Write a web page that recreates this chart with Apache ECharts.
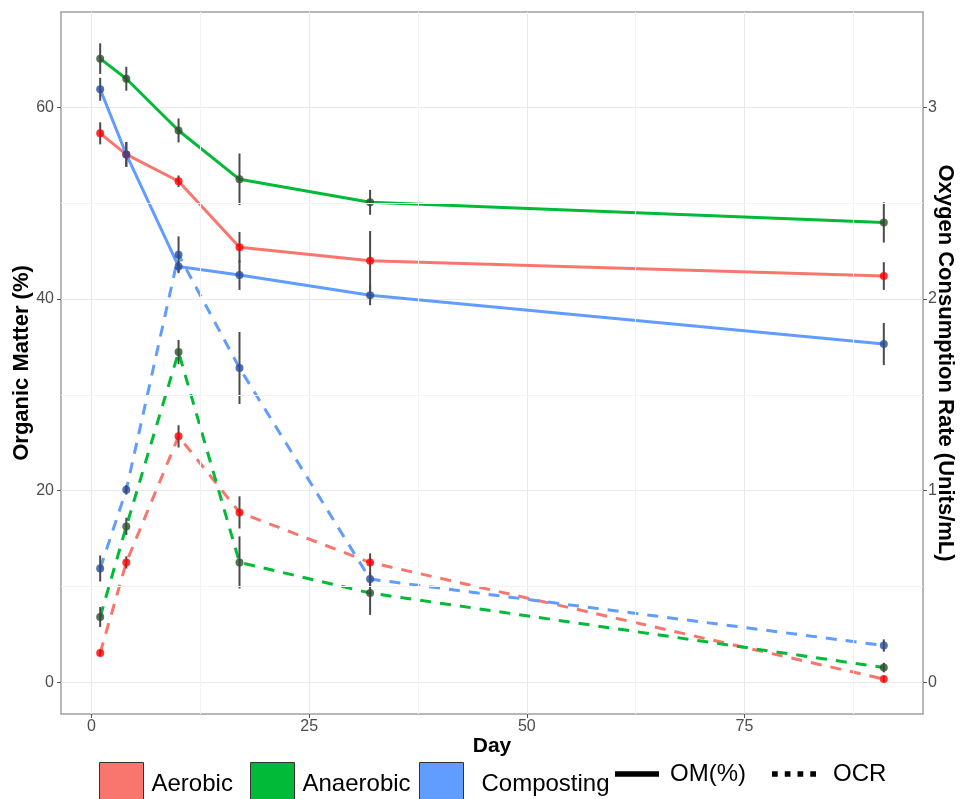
<!DOCTYPE html>
<html>
<head>
<meta charset="utf-8">
<script src="https://cdn.jsdelivr.net/npm/echarts@6/dist/echarts.min.js"></script>
<style>
html, body { margin: 0; padding: 0; background: #fff; }
#chart { width: 961px; height: 799px; }
</style>
</head>
<body>
<div id="chart"></div>
<script>
// sampling days
const days = [1, 4, 10, 17, 32, 91];
const treatments = ['Aerobic', 'Anaerobic', 'Composting'];

// organic matter (%), mean and error
const omAerobic = [57.3, 55.1, 52.3, 45.4, 44.0, 42.4];
const omAerobicErr = [1.15, 1.3, 0.6, 1.6, 3.1, 1.45];
const omAnaerobic = [65.1, 63.0, 57.6, 52.5, 50.1, 48.0];
const omAnaerobicErr = [1.6, 1.25, 1.25, 2.7, 1.3, 2.1];
const omComposting = [61.9, 55.1, 43.4, 42.5, 40.4, 35.3];
const omCompostingErr = [1.2, 1.3, 0.6, 1.55, 1.05, 2.2];

// oxygen consumption rate (Units/mL), mean and error
const ocrAerobic = [0.152, 0.625, 1.283, 0.886, 0.625, 0.016];
const ocrAerobicErr = [0.015, 0.032, 0.058, 0.084, 0.047, 0.015];
const ocrAnaerobic = [0.34, 0.813, 1.723, 0.625, 0.465, 0.076];
const ocrAnaerobicErr = [0.052, 0.045, 0.063, 0.136, 0.114, 0.025];
const ocrComposting = [0.593, 1.004, 2.231, 1.64, 0.538, 0.191];
const ocrCompostingErr = [0.068, 0.025, 0.096, 0.188, 0.04, 0.032];

// ticks
const dayTicks = [0, 25, 50, 75];
const dayMinor = [12.5, 37.5, 62.5, 87.5];
const omTicks = [0, 20, 40, 60];
const omMinor = [10, 30, 50];
const ocrTicks = [0, 1, 2, 3];

const legendNames = ['Aerobic', 'Anaerobic', 'Composting', 'OM(%)', 'OCR'];

const om = { Aerobic: omAerobic, Anaerobic: omAnaerobic, Composting: omComposting };
const omErr = { Aerobic: omAerobicErr, Anaerobic: omAnaerobicErr, Composting: omCompostingErr };
const ocr = { Aerobic: ocrAerobic, Anaerobic: ocrAnaerobic, Composting: ocrComposting };
const ocrErr = { Aerobic: ocrAerobicErr, Anaerobic: ocrAnaerobicErr, Composting: ocrCompostingErr };

const lineColors = { Aerobic: '#F8766D', Anaerobic: '#00BA38', Composting: '#619CFF' };
const pointColors = { Aerobic: '#FF0000', Anaerobic: '#2F4F2F', Composting: '#2B4C9B' };
const font = "'Liberation Sans', Arial, sans-serif";

let myChart = echarts.init(document.getElementById('chart'));

function renderBar(params, api) {
    let x = api.value(0);
    let lo = api.coord([x, api.value(1)]);
    let hi = api.coord([x, api.value(2)]);
    return {
        type: 'line',
        shape: { x1: lo[0], y1: lo[1], x2: hi[0], y2: hi[1] },
        style: { stroke: '#4a4a4a', lineWidth: 2 }
    };
}

let series = [];
// minor grid lines
series.push({
    type: 'line',
    data: [],
    silent: true,
    z: 1,
    markLine: {
        silent: true,
        symbol: 'none',
        animation: false,
        label: { show: false },
        lineStyle: { color: '#f3f3f3', type: 'solid', width: 1 },
        data: dayMinor.map(v => ({ xAxis: v })).concat(omMinor.map(v => ({ yAxis: v })))
    }
});

treatments.forEach(t => {
    // OM solid line
    series.push({
        name: t, type: 'line', symbol: 'none', z: 2, silent: true,
        lineStyle: { color: lineColors[t], width: 3 },
        data: days.map((d, i) => [d, om[t][i]])
    });
    // OCR dashed line
    series.push({
        name: t, type: 'line', symbol: 'none', z: 2, silent: true, yAxisIndex: 1,
        lineStyle: { color: lineColors[t], width: 3, type: [11, 9] },
        data: days.map((d, i) => [d, ocr[t][i]])
    });
});
treatments.forEach(t => {
    series.push({
        name: t, type: 'custom', z: 3, silent: true, renderItem: renderBar,
        encode: { x: 0, y: [1, 2] },
        data: days.map((d, i) => [d, om[t][i] - omErr[t][i], om[t][i] + omErr[t][i]])
    });
    series.push({
        name: t, type: 'custom', z: 3, silent: true, renderItem: renderBar, yAxisIndex: 1,
        encode: { x: 0, y: [1, 2] },
        data: days.map((d, i) => [d, ocr[t][i] - ocrErr[t][i], ocr[t][i] + ocrErr[t][i]])
    });
});
treatments.forEach(t => {
    series.push({
        name: t, type: 'scatter', z: 4, silent: true, symbolSize: 8,
        itemStyle: { color: pointColors[t] },
        data: days.map((d, i) => [d, om[t][i]])
    });
    series.push({
        name: t, type: 'scatter', z: 4, silent: true, symbolSize: 8, yAxisIndex: 1,
        itemStyle: { color: pointColors[t] },
        data: days.map((d, i) => [d, ocr[t][i]])
    });
});
// legend-only series for the line types
series.push({ name: 'OM(%)', type: 'line', data: [] });
series.push({ name: 'OCR', type: 'line', data: [] });

const legendLeft = [99, 250, 419, 615, 772];
const legendPad = [3, 3, 13, 6, 12];
const legendIcons = [
    'rect', 'rect', 'rect',
    'path://M0,0H10V1.2H0Z',
    'path://M0,0H1.3V1.2H0ZM2.9,0H4.2V1.2H2.9ZM5.8,0H7.1V1.2H5.8ZM8.7,0H10V1.2H8.7Z'
];
const legendColors = ['#F8766D', '#00BA38', '#619CFF', '#000', '#000'];

let option = {
    animation: false,
    backgroundColor: '#fff',
    textStyle: { fontFamily: font },
    grid: {
        left: 61, right: 38, top: 12, bottom: 85,
        containLabel: false,
        outerBoundsMode: 'none',
        show: true, backgroundColor: '#fff',
        borderColor: '#a0a0a0', borderWidth: 1.5
    },
    legend: legendNames.map((n, i) => ({
        left: legendLeft[i],
        top: 762,
        itemWidth: 44,
        itemHeight: 44,
        padding: 0,
        symbolKeepAspect: true,
        textStyle: { fontSize: 24, color: '#000', fontFamily: font, padding: [0, 0, 0, legendPad[i]] },
        data: [{
            name: n,
            icon: legendIcons[i],
            itemStyle: i < 3
                ? { color: legendColors[i], borderColor: '#333', borderWidth: 1 }
                : { color: legendColors[i], borderWidth: 0 }
        }]
    })),
    xAxis: {
        type: 'value',
        min: -3.5,
        max: 95.5,
        name: 'Day',
        nameLocation: 'middle',
        nameGap: 22,
        nameMoveOverlap: false,
        nameTextStyle: { fontSize: 21, fontWeight: 'bold', color: '#000', fontFamily: font },
        axisLine: { show: false, onZero: false },
        axisTick: { show: true, length: 4, customValues: dayTicks, lineStyle: { color: '#555' } },
        axisLabel: { customValues: dayTicks, color: '#4d4d4d', fontSize: 16, margin: 5, fontFamily: font },
        splitLine: { show: true, lineStyle: { color: '#e9e9e9', width: 1 } }
    },
    yAxis: [{
        type: 'value',
        min: -3.33,
        max: 69.97,
        position: 'left',
        name: 'Organic Matter (%)',
        nameLocation: 'middle',
        nameRotate: 90,
        nameGap: 28,
        nameMoveOverlap: false,
        nameTextStyle: { fontSize: 22, fontWeight: 'bold', color: '#000', fontFamily: font },
        axisLine: { show: false, onZero: false },
        axisTick: { show: true, length: 4, customValues: omTicks, lineStyle: { color: '#555' } },
        axisLabel: { customValues: omTicks, color: '#4d4d4d', fontSize: 16, margin: 7, fontFamily: font },
        splitLine: { show: true, lineStyle: { color: '#e9e9e9', width: 1 } }
    }, {
        type: 'value',
        min: -0.1665,
        max: 3.4985,
        position: 'right',
        name: 'Oxygen Consumption Rate (Units/mL)',
        nameLocation: 'middle',
        nameRotate: -90,
        nameGap: 11,
        nameMoveOverlap: false,
        nameTextStyle: { fontSize: 22, fontWeight: 'bold', color: '#000', fontFamily: font },
        axisLine: { show: false, onZero: false },
        axisTick: { show: true, length: 4, customValues: ocrTicks, lineStyle: { color: '#555' } },
        axisLabel: { customValues: ocrTicks, color: '#4d4d4d', fontSize: 16, margin: 5, fontFamily: font },
        splitLine: { show: false }
    }],
    series: series
};
myChart.setOption(option);
</script>
</body>
</html>
